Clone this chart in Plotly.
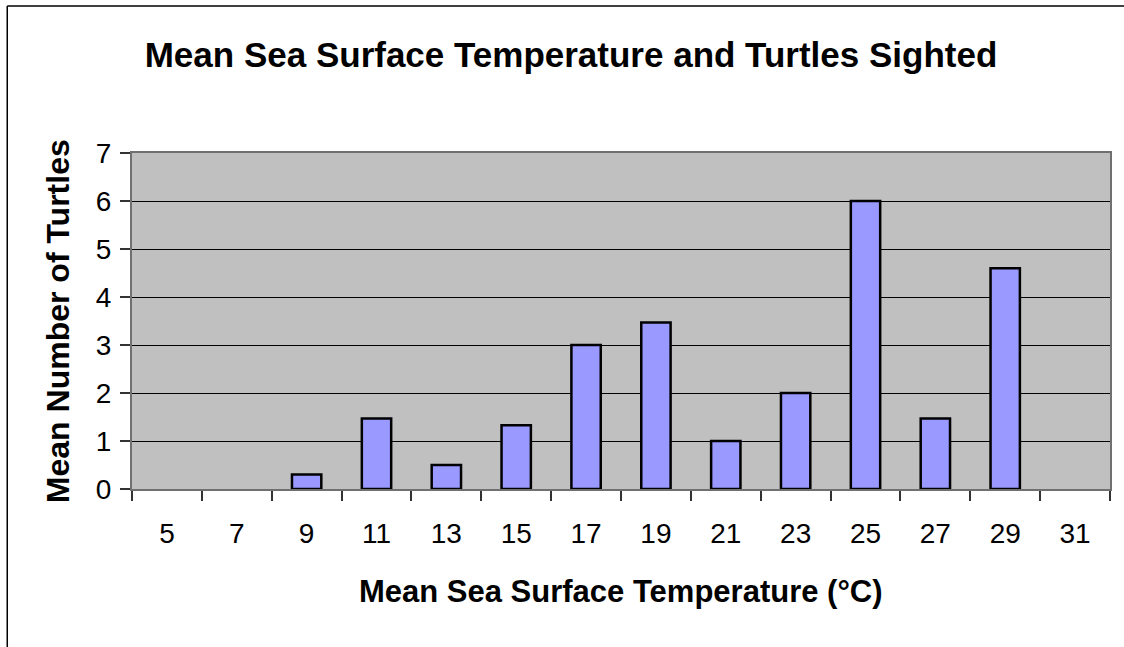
import plotly.graph_objects as go

# Mean sea surface temperature bins (°C) and mean turtles sighted per bin
temperatures = ["5", "7", "9", "11", "13", "15", "17", "19", "21", "23", "25", "27", "29", "31"]
mean_turtles = [0, 0, 0.3, 1.47, 0.5, 1.33, 3.0, 3.47, 1.0, 2.0, 6.0, 1.47, 4.6, 0]
y_ticks = [0, 1, 2, 3, 4, 5, 6, 7]

FONT = "Arial, Liberation Sans, sans-serif"

W, H = 1124, 647
L, R, T, B = 132, 12, 153, 158
pw, ph = W - L - R, H - T - B


def px_to_paper_x(px):
    return (px - L) / pw


def px_to_paper_y(py):
    return (H - B - py) / ph


# empty bins get no outline so nothing is drawn for them
outline_widths = [2.5 if v > 0 else 0 for v in mean_turtles]

fig = go.Figure(
    go.Bar(
        x=temperatures,
        y=mean_turtles,
        marker=dict(color="#9999FF", line=dict(color="#000000", width=outline_widths)),
        hoverinfo="x+y",
    )
)

fig.update_layout(
    width=W,
    height=H,
    margin=dict(l=L, r=R, t=T, b=B),
    paper_bgcolor="#FFFFFF",
    plot_bgcolor="#C0C0C0",
    bargap=0.58,
    showlegend=False,
    font=dict(family=FONT, color="#000000"),
    title=dict(
        text="<b>Mean Sea Surface Temperature and Turtles Sighted</b>",
        font=dict(family=FONT, size=35, color="#000000"),
        xref="container",
        x=571 / W,
        xanchor="center",
        yref="container",
        y=1 - 55 / H,
        yanchor="middle",
    ),
    xaxis=dict(
        type="category",
        tickson="boundaries",
        ticks="outside",
        ticklen=10,
        tickwidth=1.5,
        tickcolor="#333333",
        tickfont=dict(family=FONT, size=28, color="#000000"),
        ticklabelstandoff=18,
        showline=True,
        linecolor="#707070",
        linewidth=2,
        mirror=True,
        showgrid=False,
        zeroline=False,
    ),
    yaxis=dict(
        range=[0, 7],
        tickvals=y_ticks,
        ticks="outside",
        ticklen=10,
        tickwidth=1.5,
        tickcolor="#333333",
        tickfont=dict(family=FONT, size=28, color="#000000"),
        ticklabelstandoff=3,
        showline=True,
        linecolor="#707070",
        linewidth=2,
        mirror=True,
        showgrid=True,
        gridcolor="#000000",
        gridwidth=1,
        zeroline=False,
    ),
    annotations=[
        dict(
            text="<b>Mean Sea Surface Temperature (°C)</b>",
            xref="paper",
            yref="paper",
            x=0.5,
            y=px_to_paper_y(591),
            xanchor="center",
            yanchor="middle",
            showarrow=False,
            font=dict(family=FONT, size=31, color="#000000"),
        ),
        dict(
            text="<b>Mean Number of Turtles</b>",
            xref="paper",
            yref="paper",
            x=px_to_paper_x(58),
            y=0.5,
            xanchor="center",
            yanchor="middle",
            textangle=-90,
            showarrow=False,
            font=dict(family=FONT, size=32, color="#000000"),
        ),
    ],
    shapes=[
        # chart-area frame: left and top edges
        dict(
            type="line",
            xref="paper",
            yref="paper",
            x0=px_to_paper_x(7),
            x1=px_to_paper_x(7),
            y0=px_to_paper_y(6),
            y1=px_to_paper_y(H + 5),
            line=dict(color="#000000", width=1.5),
        ),
        dict(
            type="line",
            xref="paper",
            yref="paper",
            x0=px_to_paper_x(7),
            x1=px_to_paper_x(W + 5),
            y0=px_to_paper_y(6),
            y1=px_to_paper_y(6),
            line=dict(color="#000000", width=1.5),
        ),
    ],
)

fig.write_html("out.html")
